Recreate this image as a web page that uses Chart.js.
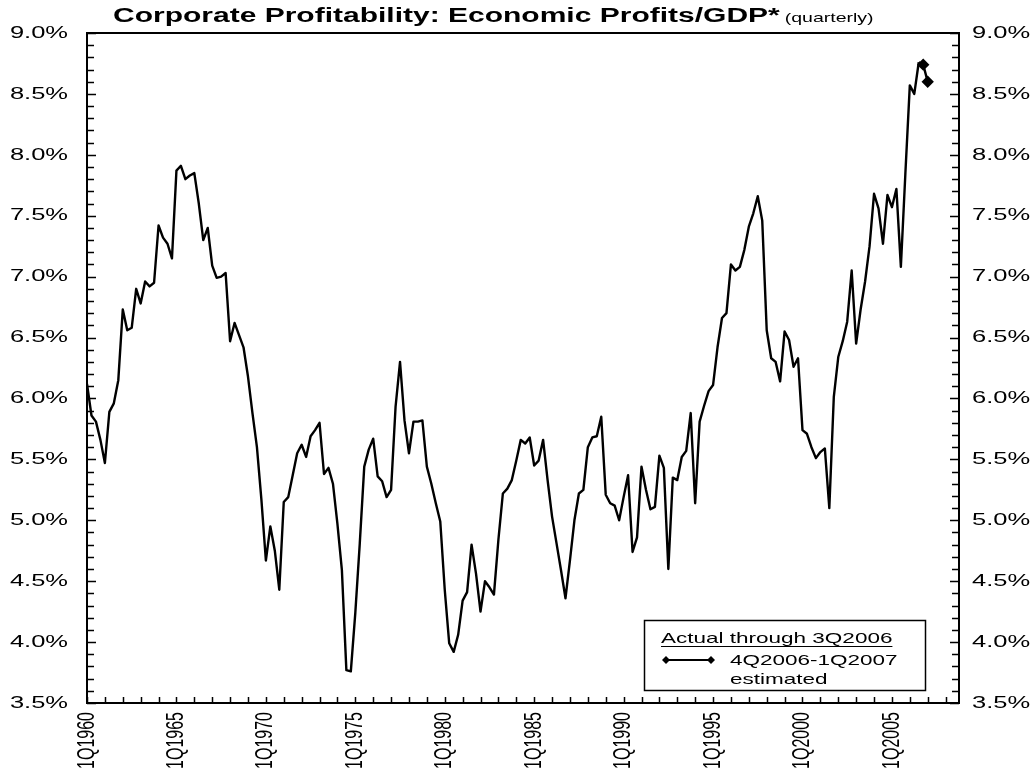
<!DOCTYPE html>
<html>
<head>
<meta charset="utf-8">
<title>Corporate Profitability</title>
<script src="https://cdn.jsdelivr.net/npm/chart.js@4.4.1/dist/chart.umd.min.js"></script>
<style>
  html, body { margin: 0; padding: 0; background: #fff; }
  #wrap { width: 1036px; height: 769px; }
</style>
</head>
<body>
<div id="wrap"><canvas id="profitChart" width="1036" height="769"></canvas></div>
<script>
// economic profits / GDP in %, one value per quarter, 1Q1960 .. 3Q2006
var profitShare = [
    6.12, 5.86, 5.81, 5.66, 5.47, 5.89, 5.96, 6.15, 6.73, 6.56,   // 1960-62
    6.58, 6.90, 6.78, 6.96, 6.92, 6.95, 7.42, 7.32, 7.27, 7.15,
    7.87, 7.91, 7.80, 7.83, 7.85, 7.60, 7.30, 7.40, 7.09, 6.99,   // 1965-
    7.00, 7.03, 6.47, 6.62, 6.52, 6.42, 6.18, 5.88, 5.60, 5.17,
    4.67, 4.95, 4.75, 4.43, 5.15, 5.19, 5.37, 5.55, 5.62, 5.52,   // 1970-
    5.69, 5.74, 5.80, 5.38, 5.43, 5.30, 4.97, 4.59, 3.77, 3.76,
    4.24, 4.81, 5.44, 5.58, 5.67, 5.36, 5.32, 5.19, 5.25, 5.93,   // 1975-
    6.30, 5.82, 5.55, 5.81, 5.81, 5.82, 5.44, 5.30, 5.14, 4.99,
    4.43, 3.99, 3.92, 4.06, 4.34, 4.41, 4.80, 4.56, 4.25, 4.50,   // 1980-
    4.45, 4.39, 4.84, 5.22, 5.26, 5.33, 5.49, 5.66, 5.63, 5.68,
    5.45, 5.49, 5.66, 5.33, 5.03, 4.81, 4.59, 4.36, 4.67, 5.00,   // 1985-
    5.22, 5.25, 5.60, 5.68, 5.69, 5.85, 5.21, 5.14, 5.12, 5.00,
    5.19, 5.37, 4.74, 4.86, 5.44, 5.25, 5.09, 5.11, 5.53, 5.43,   // 1990-
    4.60, 5.35, 5.33, 5.52, 5.57, 5.88, 5.14, 5.81, 5.94, 6.06,
    6.11, 6.42, 6.66, 6.70, 7.10, 7.05, 7.08, 7.22, 7.41, 7.52,   // 1995-
    7.66, 7.46, 6.56, 6.33, 6.30, 6.14, 6.55, 6.48, 6.26, 6.33,
    5.74, 5.71, 5.60, 5.51, 5.56, 5.59, 5.10, 6.01, 6.34, 6.47,   // 2000-
    6.63, 7.05, 6.45, 6.73, 6.96, 7.25, 7.68, 7.56, 7.27, 7.67,
    7.57, 7.72, 7.08, 7.84, 8.57, 8.50, 8.76                      // 2005-3Q2006
];

// 3Q2006 (last actual), then estimates for 4Q2006 and 1Q2007
var estimatedShare = [8.76, 8.74, 8.60];
var estimatedFrom = 186;   // quarter index of 3Q2006

var yTicks = [3.5, 4.0, 4.5, 5.0, 5.5, 6.0, 6.5, 7.0, 7.5, 8.0, 8.5, 9.0];
var xTickLabels = ['1Q1960', '1Q1965', '1Q1970', '1Q1975', '1Q1980',
                   '1Q1985', '1Q1990', '1Q1995', '1Q2000', '1Q2005'];

var titleMain = 'Corporate Profitability: Economic Profits/GDP*';
var titleSub = '(quarterly)';
var legendLines = ['Actual through 3Q2006', '4Q2006-1Q2007', 'estimated'];

var fontFamily = '"Liberation Sans", Arial, sans-serif';
var stretch = 1.5;   // the source picture is widened, so is its lettering


function stretchedText(ctx, text, x, y, font, align, baseline) {
    ctx.save();
    ctx.font = font;
    ctx.textAlign = align;
    ctx.textBaseline = baseline;
    ctx.translate(x, y);
    ctx.scale(stretch, 1);
    ctx.fillText(text, 0, 0);
    var w = ctx.measureText(text).width * stretch;
    ctx.restore();
    return w;
}

function diamond(ctx, x, y, r) {
    ctx.beginPath();
    ctx.moveTo(x, y - r);
    ctx.lineTo(x + r, y);
    ctx.lineTo(x, y + r);
    ctx.lineTo(x - r, y);
    ctx.closePath();
    ctx.fill();
}


var frameAndLabels = {
    id: 'frameAndLabels',
    afterDraw: function (chart) {
        var ctx = chart.ctx;
        var a = chart.chartArea;
        var xs = chart.scales.x;
        var ys = chart.scales.y;

        ctx.save();
        ctx.strokeStyle = '#000';
        ctx.fillStyle = '#000';

        // box round the plot
        ctx.lineWidth = 2;
        ctx.strokeRect(a.left, a.top, a.right - a.left, a.bottom - a.top);

        // inward tick marks: 0.1% on both sides, one per year at the bottom
        ctx.lineWidth = 1.5;
        ctx.beginPath();
        for (var k = 0; k <= 55; k++) {
            var py = Math.round(ys.getPixelForValue(3.5 + k / 10)) + 0.5;
            var len = (k % 5 === 0) ? 9 : 7;
            ctx.moveTo(a.left, py);
            ctx.lineTo(a.left + len, py);
            ctx.moveTo(a.right, py);
            ctx.lineTo(a.right - len, py);
        }
        for (var q = 0; q <= xs.max; q += 4) {
            var px = Math.round(xs.getPixelForValue(q)) + 0.5;
            ctx.moveTo(px, a.bottom);
            ctx.lineTo(px, a.bottom - 6);
        }
        ctx.stroke();

        // value labels, left and right
        yTicks.forEach(function (v) {
            var py = ys.getPixelForValue(v);
            var lab = v.toFixed(1) + '%';
            stretchedText(ctx, lab, a.left - 19, py, '17px ' + fontFamily, 'right', 'middle');
            stretchedText(ctx, lab, a.right + 13, py, '17px ' + fontFamily, 'left', 'middle');
        });

        // quarter labels, turned to read upwards
        xTickLabels.forEach(function (lab, i) {
            var px = xs.getPixelForValue(i * 20);
            ctx.save();
            ctx.translate(px, a.bottom + 9);
            ctx.scale(stretch, 1);
            ctx.rotate(-Math.PI / 2);
            ctx.font = '16px ' + fontFamily;
            ctx.textAlign = 'right';
            ctx.textBaseline = 'middle';
            ctx.fillText(lab, 0, 0);
            ctx.restore();
        });

        // title
        var tw = stretchedText(ctx, titleMain, 113, 22, 'bold 20px ' + fontFamily, 'left', 'alphabetic');
        stretchedText(ctx, titleSub, 113 + tw + 5, 22, '13px ' + fontFamily, 'left', 'alphabetic');

        // legend box
        ctx.fillStyle = '#fff';
        ctx.fillRect(644, 620, 281, 70);
        ctx.lineWidth = 1.5;
        ctx.strokeRect(644.5, 620.5, 281, 70);
        ctx.fillStyle = '#000';
        var lw = stretchedText(ctx, legendLines[0], 661, 643, '15px ' + fontFamily, 'left', 'alphabetic');
        ctx.lineWidth = 1;
        ctx.beginPath();
        ctx.moveTo(661, 646.5);
        ctx.lineTo(661 + lw, 646.5);
        ctx.stroke();
        ctx.lineWidth = 2;
        ctx.beginPath();
        ctx.moveTo(666, 660);
        ctx.lineTo(711, 660);
        ctx.stroke();
        diamond(ctx, 666, 660, 4);
        diamond(ctx, 711, 660, 4);
        stretchedText(ctx, legendLines[1], 730, 665, '15px ' + fontFamily, 'left', 'alphabetic');
        stretchedText(ctx, legendLines[2], 730, 684, '15px ' + fontFamily, 'left', 'alphabetic');

        ctx.restore();
    }
};


function makeChart() {
    var actualPoints = profitShare.map(function (v, i) {
        return {x: i, y: v};
    });
    var estimatedPoints = estimatedShare.map(function (v, i) {
        return {x: estimatedFrom + i, y: v};
    });

    var dataActual = {
        label: 'Actual through 3Q2006',
        data: actualPoints,
        borderColor: '#000',
        backgroundColor: '#000',
        borderWidth: 2.4,
        borderJoinStyle: 'round',
        pointRadius: 0,
        tension: 0
    };

    var dataEstimated = {
        label: '4Q2006-1Q2007 estimated',
        data: estimatedPoints,
        borderColor: '#000',
        backgroundColor: '#000',
        borderWidth: 2.4,
        borderJoinStyle: 'round',
        pointStyle: 'rectRot',
        pointRadius: function (c) { return c.dataIndex === 0 ? 0 : 4.5; },
        pointBackgroundColor: '#000',
        pointBorderColor: '#000',
        tension: 0
    };

    var hidden = {display: false};

    new Chart(document.getElementById('profitChart'), {
        type: 'line',
        data: {datasets: [dataActual, dataEstimated]},
        options: {
            responsive: false,
            animation: false,
            devicePixelRatio: 1,
            layout: {padding: {top: 33, left: 0, right: 0, bottom: 0}},
            plugins: {
                legend: hidden,
                title: hidden,
                tooltip: {enabled: false}
            },
            scales: {
                x: {
                    type: 'linear',
                    min: 0,
                    max: 195,
                    ticks: hidden,
                    grid: hidden,
                    border: hidden,
                    afterFit: function (s) { s.height = 66; }
                },
                y: {
                    position: 'left',
                    min: 3.5,
                    max: 9.0,
                    ticks: hidden,
                    grid: hidden,
                    border: hidden,
                    afterFit: function (s) { s.width = 87; }
                },
                y2: {
                    position: 'right',
                    min: 3.5,
                    max: 9.0,
                    ticks: hidden,
                    grid: hidden,
                    border: hidden,
                    afterFit: function (s) { s.width = 77; }
                }
            }
        },
        plugins: [frameAndLabels]
    });
}

document.addEventListener('DOMContentLoaded', makeChart);
</script>
</body>
</html>
